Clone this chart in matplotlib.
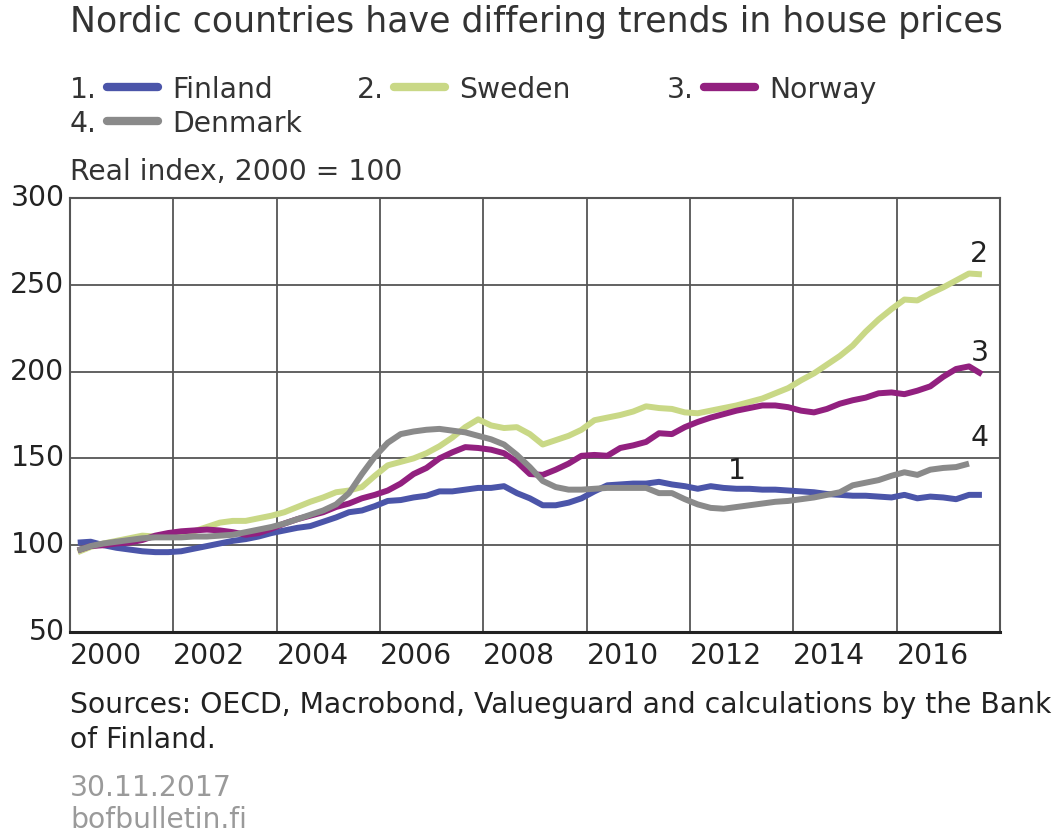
import numpy as np
import matplotlib
matplotlib.use("Agg")
import matplotlib.pyplot as plt
from matplotlib.lines import Line2D

# --- Data: quarterly real house price index, 2000 = 100 ---
finland = [101.5, 102, 100, 98.5,
           97.5, 96.5, 96, 96,
           96.5, 98, 99.5, 101,
           102.5, 103.5, 105, 107,
           108.5, 110, 111, 113.5,
           116, 119, 120, 122.5,
           125.5, 126, 127.5, 128.5,
           131, 131, 132, 133,
           133, 134, 130, 127,
           123, 123, 124.5, 127,
           131, 134.5, 135, 135.5,
           135.5, 136.5, 135, 134,
           132.5, 134, 133, 132.5,
           132.5, 132, 132, 131.5,
           131, 130.5, 129.5, 129,
           128.5, 128.5, 128, 127.5,
           129, 127, 128, 127.5,
           126.5, 129, 129]
sweden = [96, 99, 101, 102.5,
          104, 105.5, 105, 106,
          107, 108, 110.5, 113,
          114, 114, 115.5, 117,
          119, 122, 125, 127.5,
          130.5, 131.5, 133.5, 140,
          146, 148, 150, 153,
          157, 162, 168, 172.5,
          169, 167.5, 168, 164,
          158, 160.5, 163, 166.5,
          172, 173.5, 175, 177,
          180, 179, 178.5, 176.5,
          176, 177.5, 179, 180.5,
          182.5, 184.5, 187.5, 190.5,
          195, 199, 204, 209,
          215, 223, 230, 236,
          241.5, 241, 245, 248.5,
          252.5, 256.5, 256]
norway = [97, 99.5, 100, 101,
          101.5, 103, 105.5, 107,
          108, 108.5, 109, 108.5,
          107.5, 106, 107, 109.5,
          112.5, 115, 117, 119,
          122, 124, 127, 129,
          131.5, 135.5, 141, 144.5,
          150, 153.5, 156.5, 156,
          155, 153, 148, 141,
          140.5, 143.5, 147, 151.5,
          152, 151.5, 156, 157.5,
          159.5, 164.5, 164, 168,
          171, 173.5, 175.5, 177.5,
          179, 180.5, 180.5, 179.5,
          177.5, 176.5, 178.5, 181.5,
          183.5, 185, 187.5, 188,
          187, 189, 191.5, 197,
          201.5, 203, 198.5]
denmark = [97, 99.5, 101, 102,
           103, 104, 104.5, 104.5,
           104.5, 105, 105, 105.5,
           106, 107.5, 109, 110.5,
           112.5, 115, 117.5, 120,
           123.5, 130, 141, 151,
           159, 164, 165.5, 166.5,
           167, 166, 165, 163,
           161, 158, 152, 145,
           137, 133.5, 132, 132,
           132.5, 133, 133, 133,
           133, 130, 130, 126.5,
           123.5, 121.5, 121, 122,
           123, 124, 125, 125.5,
           126.5, 127.5, 129, 130.5,
           134.5, 136, 137.5, 140,
           142, 140.5, 143.5, 144.5,
           145, 147]

names = ["Finland", "Sweden", "Norway", "Denmark"]
colors = ["#4b55a9", "#c9d886", "#92207f", "#8a8a8a"]
series = [finland, sweden, norway, denmark]
year_ticks = list(range(2000, 2017, 2))
y_ticks = [50, 100, 150, 200, 250, 300]

txt = "#333333"
fs = 20.3
plt.rcParams['font.family'] = ['DejaVu Sans']

fig = plt.figure(figsize=(10.62, 8.36), dpi=100)
ax = fig.add_axes([70 / 1062, 1 - 632 / 836, 930 / 1062, 434 / 836])

for vals, c in zip(series, colors):
    t = 2000.15 + 0.25 * np.arange(len(vals))
    ax.plot(t, vals, color=c, lw=4.3, solid_capstyle="butt", solid_joinstyle="round")

ax.set_xlim(2000, 2018)
ax.set_ylim(50, 300)
ax.set_xticks(year_ticks)
ax.set_xticklabels([str(y) for y in year_ticks], ha="left", fontsize=fs, color="#222222")
ax.set_yticks(y_ticks)
ax.set_yticklabels([str(v) for v in y_ticks], fontsize=fs, color="#222222", va="center")
ax.tick_params(axis="x", length=0, pad=7)
ax.tick_params(axis="y", length=0, pad=4)
ax.grid(True, color="#555555", lw=1.3)
ax.set_axisbelow(True)
for s in ax.spines.values():
    s.set_color("#555555")
    s.set_linewidth(1.5)
ax.spines["bottom"].set_color("#222222")
ax.spines["bottom"].set_linewidth(2.2)

# series number labels at line ends
for lbl, x, y in [("1", 2012.9, 143), ("2", 2017.6, 268), ("3", 2017.6, 211), ("4", 2017.6, 161.5)]:
    ax.text(x, y, lbl, fontsize=fs, color="#222222", ha="center", va="center")

# --- Title, legend and notes in figure pixels ---
def fx(px):
    return px / 1062

def fy(py):
    return 1 - py / 836

fig.text(fx(70), fy(22), "Nordic countries have differing trends in house prices",
         fontsize=25, color=txt, va="center")

legend_pos = [(70, 90), (357, 90), (667, 90), (70, 124)]
for i, ((x0, y0), name, c) in enumerate(zip(legend_pos, names, colors)):
    fig.text(fx(x0), fy(y0), f"{i + 1}.", fontsize=fs, color=txt, va="center")
    fig.add_artist(Line2D([fx(x0 + 37), fx(x0 + 88)], [fy(y0 - 3), fy(y0 - 3)],
                          color=c, lw=6, solid_capstyle="round", transform=fig.transFigure))
    fig.text(fx(x0 + 102), fy(y0), name, fontsize=fs, color=txt, va="center")

fig.text(fx(70), fy(172), "Real index, 2000 = 100", fontsize=fs, color=txt, va="center")
fig.text(fx(70), fy(705), "Sources: OECD, Macrobond, Valueguard and calculations by the Bank",
         fontsize=fs, color="#222222", va="center")
fig.text(fx(70), fy(740), "of Finland.", fontsize=fs, color="#222222", va="center")
fig.text(fx(70), fy(788), "30.11.2017", fontsize=fs, color="#9a9a9a", va="center")
fig.text(fx(70), fy(820), "bofbulletin.fi", fontsize=fs, color="#9a9a9a", va="center")

fig.savefig("out.png", dpi=100)
